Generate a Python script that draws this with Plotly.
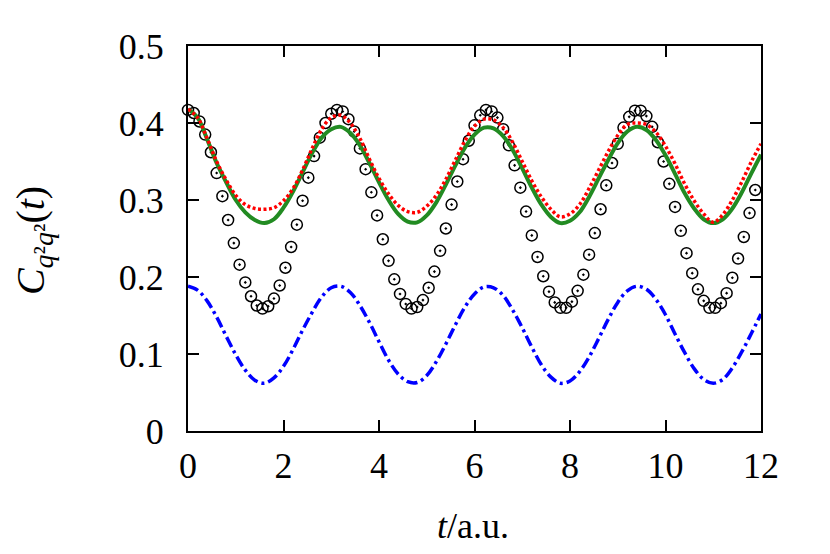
import plotly.graph_objects as go

# ---- data ----
# sampled time grid for the circle series (exact result)
t_exact = [0.00, 0.12, 0.24, 0.36, 0.48, 0.60, 0.72, 0.84, 0.96, 1.08,
           1.20, 1.32, 1.44, 1.56, 1.68, 1.80, 1.92, 2.04, 2.16, 2.28,
           2.40, 2.52, 2.64, 2.76, 2.88, 3.00, 3.12, 3.24, 3.36, 3.48,
           3.60, 3.72, 3.84, 3.96, 4.08, 4.20, 4.32, 4.44, 4.56, 4.68,
           4.80, 4.92, 5.04, 5.16, 5.28, 5.40, 5.52, 5.64, 5.76, 5.88,
           6.00, 6.12, 6.24, 6.36, 6.48, 6.60, 6.72, 6.84, 6.96, 7.08,
           7.20, 7.32, 7.44, 7.56, 7.68, 7.80, 7.92, 8.04, 8.16, 8.28,
           8.40, 8.52, 8.64, 8.76, 8.88, 9.00, 9.12, 9.24, 9.36, 9.48,
           9.60, 9.72, 9.84, 9.96, 10.08, 10.20, 10.32, 10.44, 10.56, 10.68,
           10.80, 10.92, 11.04, 11.16, 11.28, 11.40, 11.52, 11.64, 11.76, 11.88]
c_exact = [0.417, 0.413, 0.402, 0.385, 0.362, 0.335, 0.305, 0.274, 0.244, 0.216,
           0.193, 0.175, 0.163, 0.159, 0.162, 0.172, 0.189, 0.212, 0.239, 0.268,
           0.299, 0.329, 0.357, 0.381, 0.400, 0.412, 0.417, 0.415, 0.405, 0.389,
           0.367, 0.340, 0.310, 0.280, 0.249, 0.221, 0.197, 0.178, 0.165, 0.159,
           0.161, 0.170, 0.186, 0.207, 0.234, 0.263, 0.294, 0.324, 0.353, 0.377,
           0.397, 0.410, 0.417, 0.415, 0.407, 0.392, 0.371, 0.345, 0.316, 0.285,
           0.254, 0.226, 0.201, 0.181, 0.167, 0.160, 0.160, 0.168, 0.182, 0.203,
           0.229, 0.257, 0.288, 0.319, 0.348, 0.373, 0.394, 0.408, 0.416, 0.416,
           0.409, 0.395, 0.375, 0.350, 0.321, 0.291, 0.260, 0.231, 0.205, 0.184,
           0.169, 0.160, 0.160, 0.166, 0.179, 0.199, 0.224, 0.252, 0.283, 0.313]

# time grid for the three approximate curves
t_curve = [0.0, 0.2, 0.4, 0.6, 0.8, 1.0, 1.2, 1.4, 1.6, 1.8,
           2.0, 2.2, 2.4, 2.6, 2.8, 3.0, 3.2, 3.4, 3.6, 3.8,
           4.0, 4.2, 4.4, 4.6, 4.8, 5.0, 5.2, 5.4, 5.6, 5.8,
           6.0, 6.2, 6.4, 6.6, 6.8, 7.0, 7.2, 7.4, 7.6, 7.8,
           8.0, 8.2, 8.4, 8.6, 8.8, 9.0, 9.2, 9.4, 9.6, 9.8,
           10.0, 10.2, 10.4, 10.6, 10.8, 11.0, 11.2, 11.4, 11.6, 11.8, 12.0]
c_green = [0.418, 0.407, 0.379, 0.348, 0.323, 0.300, 0.284, 0.274, 0.270, 0.275,
           0.290, 0.311, 0.336, 0.361, 0.381, 0.392, 0.395, 0.387, 0.371, 0.348,
           0.323, 0.300, 0.282, 0.272, 0.271, 0.280, 0.297, 0.320, 0.345, 0.368,
           0.385, 0.394, 0.393, 0.383, 0.365, 0.341, 0.316, 0.294, 0.278, 0.270,
           0.273, 0.284, 0.304, 0.328, 0.352, 0.374, 0.389, 0.395, 0.391, 0.378,
           0.358, 0.334, 0.309, 0.289, 0.275, 0.270, 0.275, 0.289, 0.310, 0.335, 0.359]
c_red = [0.418, 0.407, 0.380, 0.350, 0.326, 0.306, 0.294, 0.289, 0.288, 0.290,
         0.299, 0.315, 0.339, 0.367, 0.392, 0.407, 0.410, 0.400, 0.380, 0.353,
         0.328, 0.308, 0.293, 0.285, 0.284, 0.292, 0.306, 0.327, 0.352, 0.377,
         0.396, 0.405, 0.404, 0.394, 0.375, 0.350, 0.325, 0.304, 0.288, 0.278,
         0.282, 0.294, 0.315, 0.339, 0.363, 0.384, 0.398, 0.400, 0.398, 0.388,
         0.370, 0.347, 0.321, 0.299, 0.282, 0.271, 0.281, 0.300, 0.324, 0.350, 0.373]
c_blue = [0.188, 0.183, 0.169, 0.148, 0.123, 0.099, 0.079, 0.066, 0.062, 0.069,
          0.084, 0.106, 0.131, 0.154, 0.174, 0.186, 0.188, 0.180, 0.163, 0.141,
          0.116, 0.092, 0.074, 0.064, 0.063, 0.072, 0.090, 0.113, 0.138, 0.161,
          0.178, 0.187, 0.186, 0.176, 0.157, 0.134, 0.109, 0.086, 0.070, 0.062,
          0.065, 0.077, 0.096, 0.120, 0.145, 0.167, 0.182, 0.188, 0.184, 0.171,
          0.151, 0.126, 0.102, 0.081, 0.067, 0.062, 0.067, 0.082, 0.103, 0.127, 0.152]

x_ticks = [0, 2, 4, 6, 8, 10, 12]
y_ticks = [0, 0.1, 0.2, 0.3, 0.4, 0.5]
y_tick_text = ["0", "0.1", "0.2", "0.3", "0.4", "0.5"]

FONT = "Liberation Serif"

fig = go.Figure()
fig.add_trace(go.Scatter(
    x=t_exact, y=c_exact, mode="markers", cliponaxis=False,
    marker=dict(symbol="circle-open-dot", size=11, color="black",
                line=dict(color="black", width=1.5)),
    showlegend=False))
fig.add_trace(go.Scatter(
    x=t_curve, y=c_green, mode="lines", line_shape="spline",
    line=dict(color="#228B22", width=4), showlegend=False))
fig.add_trace(go.Scatter(
    x=t_curve, y=c_red, mode="lines", line_shape="spline",
    line=dict(color="#FF0000", width=3.5, dash="3px,2.5px"), showlegend=False))
fig.add_trace(go.Scatter(
    x=t_curve, y=c_blue, mode="lines", line_shape="spline",
    line=dict(color="#0000FF", width=3.5, dash="11px,4px,3px,4px"), showlegend=False))

axis_common = dict(
    showline=True, linecolor="black", linewidth=2, mirror="ticks",
    ticks="inside", ticklen=11, tickwidth=2, tickcolor="black",
    showgrid=False, zeroline=False,
    tickfont=dict(family=FONT, size=36, color="black"),
)
fig.update_xaxes(range=[0, 12], tickvals=x_ticks, ticktext=[str(v) for v in x_ticks],
                 ticklabelstandoff=2, **axis_common)
fig.update_yaxes(range=[0, 0.5], tickvals=y_ticks, ticktext=y_tick_text,
                 ticklabelstandoff=15, **axis_common)

fig.add_annotation(text="<i>t</i>/a.u.", xref="paper", yref="paper",
                   x=0.497, y=-0.246, xanchor="center", yanchor="middle",
                   showarrow=False,
                   font=dict(family=FONT, size=36, color="black"))
fig.add_annotation(text="<i>C</i><sub><i>q</i>²<i>q</i>²</sub>(<i>t</i>)",
                   xref="paper", yref="paper", x=-0.27, y=0.494,
                   xanchor="center", yanchor="middle", textangle=-90,
                   showarrow=False, font=dict(family=FONT, size=40, color="black"))

fig.update_layout(
    width=830, height=554,
    margin=dict(l=180, r=77, t=38, b=131),
    paper_bgcolor="white", plot_bgcolor="white",
)
fig.write_html("out.html")
